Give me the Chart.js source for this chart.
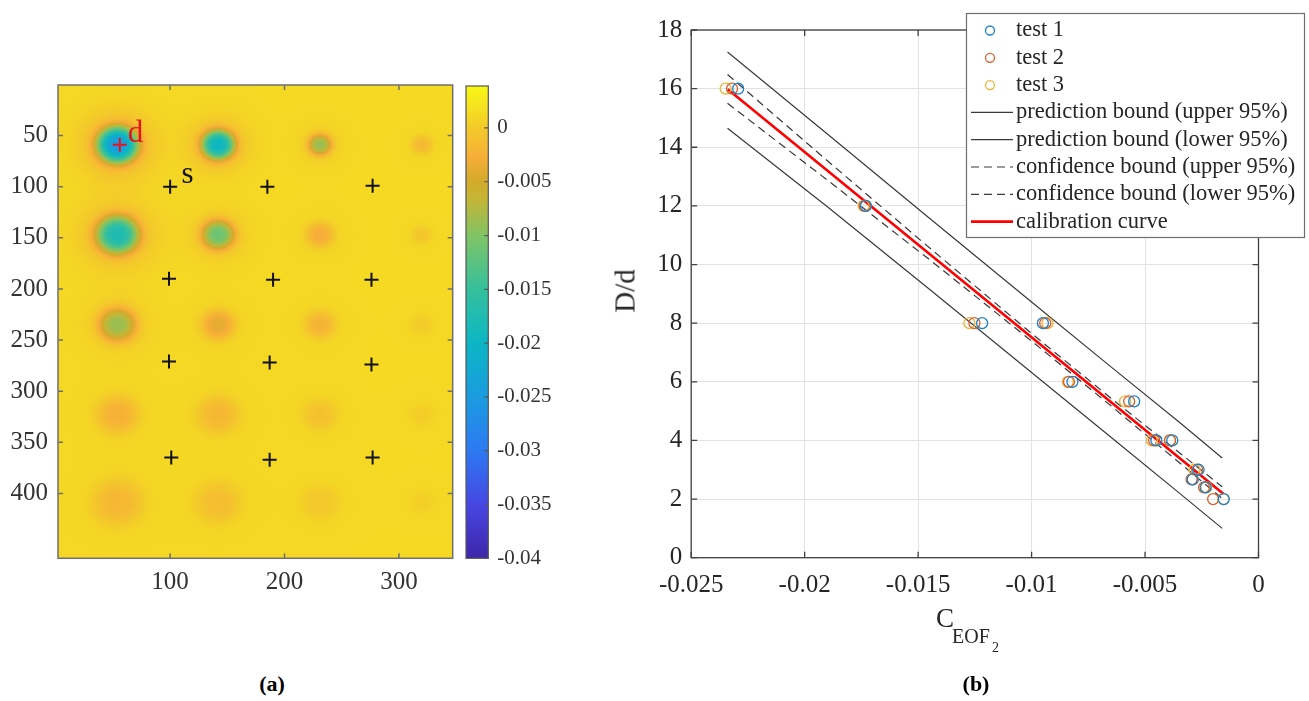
<!DOCTYPE html>
<html>
<head>
<meta charset="utf-8">
<title>EOF2 coefficient map and calibration curve</title>
<script src="https://cdn.jsdelivr.net/npm/chart.js@4.4.1/dist/chart.umd.min.js"></script>
<style>
    html, body { margin: 0; padding: 0; background: #fff; }
    #page { position: relative; width: 1309px; height: 701px; overflow: hidden;
            font-family: "Liberation Serif", "Times New Roman", serif; color: #262626; }
    canvas { position: absolute; }
    .txt { position: absolute; white-space: nowrap; line-height: 1; }
</style>
</head>
<body>
<div id="page">
    <canvas id="mapChart" width="465" height="560" style="left:0;top:60px"></canvas>
    <canvas id="barChart" width="120" height="560" style="left:460px;top:60px"></canvas>
    <canvas id="fitChart" width="709" height="660" style="left:600px;top:0"></canvas>

    <div class="txt" style="left:625px;top:291px;font-size:29px;transform:translate(-50%,-50%) rotate(-90deg)">D/d</div>
    <div class="txt" style="left:936px;top:605px;font-size:27px">C</div>
    <div class="txt" style="left:952px;top:626px;font-size:20px">EOF</div>
    <div class="txt" style="left:992px;top:641px;font-size:14px">2</div>

    <div class="txt" style="left:272px;top:673px;font-size:22px;font-weight:bold;color:#000;transform:translateX(-50%)">(a)</div>
    <div class="txt" style="left:976px;top:673px;font-size:22px;font-weight:bold;color:#000;transform:translateX(-50%)">(b)</div>
</div>

<script>
/* ---------- (a) EOF2 map ---------- */
var mapXTicks = [100, 200, 300];
var mapYTicks = [50, 100, 150, 200, 250, 300, 350, 400];
// sensor positions (black +)
var sensorX = [100, 185, 277, 99, 190, 276, 99, 187, 276, 101, 187, 277];
var sensorY = [100, 100, 99, 190, 191, 191, 271, 272, 274, 365, 367, 365];
// damage position (red +)
var damageX = [56];
var damageY = [59];
// text marks on the map
var noteText = ["d", "s"];
var noteX = [63, 110];
var noteY = [56, 96];
var noteColor = ["#e8141c", "#111"];
// spots of the field: column / row centres, depth and size of each spot
var blobX = [54, 142, 231, 320];
var blobY = [59, 147, 235, 323, 409];
var blobDepth = [
    [-0.026, -0.021, -0.0100, -0.0028],
    [-0.019, -0.0125, -0.0040, -0.0016],
    [-0.0100, -0.0050, -0.0034, -0.0011],
    [-0.0036, -0.0030, -0.0021, -0.0009],
    [-0.0030, -0.0024, -0.0015, -0.0008]
];
var blobRadius = [
    [17, 14, 10, 9],
    [18, 14, 12, 9],
    [16, 14, 13, 10],
    [18, 18, 15, 12],
    [22, 20, 17, 12]
];
var fieldBase = 0.0012;

/* ---------- colour bar ---------- */
var cbarMin = -0.04;
var cbarMax = 0.0039;
var cbarTicks = [-0.04, -0.035, -0.03, -0.025, -0.02, -0.015, -0.01, -0.005, 0];
var cbarLabels = ["-0.04", "-0.035", "-0.03", "-0.025", "-0.02", "-0.015", "-0.01", "-0.005", "0"];

/* ---------- (b) calibration ---------- */
var ratioD = [16, 12, 8, 8, 6, 5.33, 4, 4, 3, 2.67, 2.4, 2];
var test1 = [-0.02293, -0.0173, -0.01218, -0.0095, -0.0082, -0.00548, -0.0045, -0.0038, -0.00264, -0.0029, -0.00233, -0.00153];
var test2 = [-0.0232, -0.01735, -0.01252, -0.0094, -0.00835, -0.0057, -0.0046, -0.0039, -0.0027, -0.00295, -0.0024, -0.0020];
var test3 = [-0.02348, -0.0174, -0.01274, -0.0093, -0.0084, -0.00588, -0.0047, -0.0039, -0.00282, -0.0029, -0.0023, -0.00155];
var boundX = [-0.0234, -0.019, -0.0145, -0.010, -0.0065, -0.0035, -0.0016];
var predUpper = [17.25, 14.45, 11.58, 8.72, 6.51, 4.63, 3.40];
var predLower = [14.65, 11.97, 9.16, 6.32, 4.11, 2.21, 1.00];
var confUpper = [16.48, 13.54, 10.57, 7.65, 5.44, 3.59, 2.42];
var confLower = [15.50, 12.88, 10.17, 7.39, 5.18, 3.25, 2.02];
var curveX = [-0.02339, -0.00154];
var curveY = [15.98, 2.17];
var fitXTicks = [-0.025, -0.02, -0.015, -0.01, -0.005, 0];
var fitXLabels = ["-0.025", "-0.02", "-0.015", "-0.01", "-0.005", "0"];
var fitYTicks = [0, 2, 4, 6, 8, 10, 12, 14, 16, 18];

/* parula-like colour map */
var cmapPos = [0, 0.11, 0.23, 0.34, 0.455, 0.57, 0.68, 0.76, 0.80, 0.85, 0.91, 1];
var cmapHex = ["#3e26a8", "#4745e2", "#2c7af2", "#1b9be0", "#0bb6c4", "#35c09c",
               "#7ec466", "#c4b636", "#d4aa2a", "#f7ae38", "#f3ca2a", "#f8f815"];

var serif = '"Liberation Serif", "Times New Roman", serif';
Chart.defaults.font.family = serif;

function hexRgb(h) {
    return [parseInt(h.substr(1, 2), 16), parseInt(h.substr(3, 2), 16), parseInt(h.substr(5, 2), 16)];
}
var cmapRgb = cmapHex.map(hexRgb);

function colourAt(v) {
    var t = (v - cbarMin) / (cbarMax - cbarMin);
    if (t <= 0) return cmapRgb[0];
    if (t >= 1) return cmapRgb[cmapRgb.length - 1];
    for (var i = 1; i < cmapPos.length; i++) {
        if (t <= cmapPos[i]) {
            var f = (t - cmapPos[i - 1]) / (cmapPos[i] - cmapPos[i - 1]);
            var a = cmapRgb[i - 1], b = cmapRgb[i];
            return [a[0] + (b[0] - a[0]) * f, a[1] + (b[1] - a[1]) * f, a[2] + (b[2] - a[2]) * f];
        }
    }
    return cmapRgb[cmapRgb.length - 1];
}

// sharp core plus a soft halo round every spot
function fieldValue(x, y) {
    var v = fieldBase;
    for (var r = 0; r < blobY.length; r++) {
        for (var c = 0; c < blobX.length; c++) {
            var dx = x - blobX[c], dy = y - blobY[r];
            var q = Math.sqrt(dx * dx + dy * dy) / blobRadius[r][c];
            var halo = q / 1.8;
            v += blobDepth[r][c] * (0.85 * Math.exp(-q * q * q) + 0.15 * Math.exp(-halo * halo));
        }
    }
    return v;
}

function fixedTicks(list) {
    return function (scale) {
        scale.ticks = list.map(function (v) { return { value: v }; });
    };
}

/* paints the map pixel by pixel through the chart scales */
var heatmapPlugin = {
    id: "heatmap",
    beforeDatasetsDraw: function (chart) {
        var a = chart.chartArea, xs = chart.scales.x, ys = chart.scales.y;
        var left = Math.floor(a.left), top = Math.floor(a.top);
        var w = Math.ceil(a.right) - left, h = Math.ceil(a.bottom) - top;
        var img = chart.ctx.createImageData(w, h);
        for (var j = 0; j < h; j++) {
            var yv = ys.getValueForPixel(top + j + 0.5);
            for (var i = 0; i < w; i++) {
                var xv = xs.getValueForPixel(left + i + 0.5);
                var c = colourAt(fieldValue(xv, yv));
                var k = (j * w + i) * 4;
                img.data[k] = c[0];
                img.data[k + 1] = c[1];
                img.data[k + 2] = c[2];
                img.data[k + 3] = 255;
            }
        }
        chart.ctx.putImageData(img, left, top);
    }
};

/* box round the axes with inward ticks, MATLAB style */
var framePlugin = {
    id: "frame",
    afterDatasetsDraw: function (chart, args, o) {
        var a = chart.chartArea, ctx = chart.ctx, len = o.tick;
        ctx.save();
        ctx.strokeStyle = o.color;
        ctx.lineWidth = o.width;
        ctx.beginPath();
        if (o.xTicks) {
            chart.scales.x.ticks.forEach(function (t) {
                var px = chart.scales.x.getPixelForValue(t.value);
                ctx.moveTo(px, a.bottom); ctx.lineTo(px, a.bottom - len);
                ctx.moveTo(px, a.top); ctx.lineTo(px, a.top + len);
            });
        }
        if (o.yTicks) {
            chart.scales.y.ticks.forEach(function (t) {
                var py = chart.scales.y.getPixelForValue(t.value);
                if (o.yLeft) { ctx.moveTo(a.left, py); ctx.lineTo(a.left + len, py); }
                ctx.moveTo(a.right, py); ctx.lineTo(a.right - len, py);
            });
        }
        ctx.stroke();
        ctx.strokeRect(a.left, a.top, a.right - a.left, a.bottom - a.top);
        ctx.restore();
    }
};

var mapTextPlugin = {
    id: "mapText",
    afterDatasetsDraw: function (chart) {
        var ctx = chart.ctx;
        ctx.save();
        ctx.font = "31px " + serif;
        ctx.textAlign = "left";
        ctx.textBaseline = "alphabetic";
        noteText.forEach(function (t, i) {
            ctx.fillStyle = noteColor[i];
            ctx.fillText(t, chart.scales.x.getPixelForValue(noteX[i]), chart.scales.y.getPixelForValue(noteY[i]));
        });
        ctx.restore();
    }
};

var legendPlugin = {
    id: "fitLegend",
    afterDraw: function (chart, args, o) {
        var ctx = chart.ctx;
        ctx.save();
        ctx.fillStyle = "#fff";
        ctx.fillRect(o.x, o.y, o.w, o.h);
        ctx.strokeStyle = "#6e6e6e";
        ctx.lineWidth = 1.2;
        ctx.strokeRect(o.x + 0.5, o.y + 0.5, o.w, o.h);
        ctx.font = o.size + "px " + serif;
        ctx.textBaseline = "middle";
        chart.data.datasets.forEach(function (ds, i) {
            var cy = o.y + o.first + i * o.step;
            ctx.setLineDash([]);
            if (ds.showLine === false) {
                ctx.strokeStyle = ds.borderColor;
                ctx.lineWidth = 1.3;
                ctx.beginPath();
                ctx.arc(o.x + 24, cy, 4.5, 0, Math.PI * 2);
                ctx.stroke();
            } else {
                ctx.strokeStyle = ds.borderColor;
                ctx.lineWidth = ds.borderWidth;
                ctx.setLineDash(ds.borderDash || []);
                ctx.beginPath();
                ctx.moveTo(o.x + 5, cy);
                ctx.lineTo(o.x + 47, cy);
                ctx.stroke();
            }
            ctx.fillStyle = "#262626";
            ctx.fillText(ds.label, o.x + 50, cy);
        });
        ctx.restore();
    }
};

function toPoints(xs, ys) {
    return xs.map(function (x, i) { return { x: x, y: ys[i] }; });
}

/* ---------- chart (a) ---------- */
var mapChart = new Chart(document.getElementById("mapChart"), {
    type: "scatter",
    data: {
        datasets: [
            {
                label: "sensors",
                data: toPoints(sensorX, sensorY),
                pointStyle: "cross",
                radius: 7,
                borderWidth: 2,
                borderColor: "#111",
                backgroundColor: "#111",
            },
            {
                label: "damage",
                data: toPoints(damageX, damageY),
                pointStyle: "cross",
                radius: 7,
                borderWidth: 2,
                borderColor: "#e8141c",
                backgroundColor: "#e8141c",
            },
        ],
    },
    options: {
        responsive: false,
        animation: false,
        events: [],
        layout: { padding: { left: 0, top: 25, right: 12.3, bottom: 0 } },
        plugins: {
            legend: { display: false },
            tooltip: { enabled: false },
            frame: { color: "#6f6f6f", width: 1.5, tick: 5, xTicks: true, yTicks: true, yLeft: true },
        },
        scales: {
            x: {
                type: "linear",
                min: 2,
                max: 347,
                afterBuildTicks: fixedTicks(mapXTicks),
                afterFit: function (s) { s.height = 61.7; },
                grid: { display: false, drawTicks: false },
                border: { display: false },
                ticks: { color: "#333", padding: 9, maxRotation: 0, autoSkip: false, font: { size: 25 } },
            },
            y: {
                type: "linear",
                reverse: true,
                min: 0.5,
                max: 463.5,
                afterBuildTicks: fixedTicks(mapYTicks),
                afterFit: function (s) { s.width = 58; },
                grid: { display: false, drawTicks: false },
                border: { display: false },
                ticks: { color: "#333", padding: 10, autoSkip: false, font: { size: 25 } },
            },
        },
    },
    plugins: [heatmapPlugin, framePlugin, mapTextPlugin],
});

/* ---------- colour bar ---------- */
var barChart = new Chart(document.getElementById("barChart"), {
    type: "bar",
    data: {
        labels: [""],
        datasets: [
            {
                label: "EOF2",
                data: [[cbarMin, cbarMax]],
                barPercentage: 1,
                categoryPercentage: 1,
                borderWidth: 0,
                backgroundColor: function (ctx) {
                    var c = ctx.chart;
                    if (!c.chartArea) return cmapHex[0];
                    var ys = c.scales.y;
                    var y0 = ys.getPixelForValue(cbarMin), y1 = ys.getPixelForValue(cbarMax);
                    var g = c.ctx.createLinearGradient(0, y0, 0, y1);
                    cmapPos.forEach(function (p, i) { g.addColorStop(p, cmapHex[i]); });
                    return g;
                },
            },
        ],
    },
    options: {
        responsive: false,
        animation: false,
        events: [],
        layout: { padding: { left: 6, top: 26, right: 0, bottom: 61.7 } },
        plugins: {
            legend: { display: false },
            tooltip: { enabled: false },
            frame: { color: "#555", width: 1.2, tick: 4, xTicks: false, yTicks: true, yLeft: false },
        },
        scales: {
            x: { display: false },
            y: {
                position: "right",
                min: cbarMin,
                max: cbarMax,
                afterBuildTicks: fixedTicks(cbarTicks),
                afterFit: function (s) { s.width = 91.7; },
                grid: { display: false, drawTicks: false },
                border: { display: false },
                ticks: {
                    color: "#333",
                    padding: 9,
                    autoSkip: false,
                    font: { size: 21 },
                    callback: function (v, i) { return cbarLabels[i]; },
                },
            },
        },
    },
    plugins: [framePlugin],
});

/* ---------- chart (b) ---------- */
var lineGrey = "#3a3a3a";
var fitChart = new Chart(document.getElementById("fitChart"), {
    type: "scatter",
    data: {
        datasets: [
            { label: "test 1", data: toPoints(test1, ratioD), showLine: false, order: 0,
              pointStyle: "circle", radius: 5.5, borderWidth: 1.3, borderColor: "#1a82cc", backgroundColor: "rgba(0,0,0,0)" },
            { label: "test 2", data: toPoints(test2, ratioD), showLine: false, order: 0,
              pointStyle: "circle", radius: 5.5, borderWidth: 1.3, borderColor: "#d9602a", backgroundColor: "rgba(0,0,0,0)" },
            { label: "test 3", data: toPoints(test3, ratioD), showLine: false, order: 0,
              pointStyle: "circle", radius: 5.5, borderWidth: 1.3, borderColor: "#efb437", backgroundColor: "rgba(0,0,0,0)" },
            { label: "prediction bound (upper 95%)", data: toPoints(boundX, predUpper), showLine: true, order: 2,
              pointRadius: 0, borderWidth: 1.2, borderColor: lineGrey, tension: 0 },
            { label: "prediction bound (lower 95%)", data: toPoints(boundX, predLower), showLine: true, order: 2,
              pointRadius: 0, borderWidth: 1.2, borderColor: lineGrey, tension: 0 },
            { label: "confidence bound (upper 95%)", data: toPoints(boundX, confUpper), showLine: true, order: 2,
              pointRadius: 0, borderWidth: 1.2, borderColor: lineGrey, borderDash: [8, 5], tension: 0 },
            { label: "confidence bound (lower 95%)", data: toPoints(boundX, confLower), showLine: true, order: 2,
              pointRadius: 0, borderWidth: 1.2, borderColor: lineGrey, borderDash: [8, 5], tension: 0 },
            { label: "calibration curve", data: toPoints(curveX, curveY), showLine: true, order: 1,
              pointRadius: 0, borderWidth: 2.6, borderColor: "#ff0000", tension: 0 },
        ],
    },
    options: {
        responsive: false,
        animation: false,
        events: [],
        layout: { padding: { left: 0, top: 30, right: 50.5, bottom: 0 } },
        plugins: {
            legend: { display: false },
            tooltip: { enabled: false },
            frame: { color: "#404040", width: 1.3, tick: 6, xTicks: true, yTicks: true, yLeft: true },
            fitLegend: { x: 366, y: 13, w: 338, h: 224, first: 17.5, step: 27.3, size: 22.5 },
        },
        scales: {
            x: {
                type: "linear",
                min: -0.025,
                max: 0,
                afterBuildTicks: fixedTicks(fitXTicks),
                afterFit: function (s) { s.height = 102.3; },
                grid: { color: "#e2e2e2", lineWidth: 1, drawTicks: false },
                border: { display: false },
                ticks: {
                    color: "#262626",
                    padding: 13,
                    maxRotation: 0,
                    autoSkip: false,
                    font: { size: 25 },
                    callback: function (v, i) { return fitXLabels[i]; },
                },
            },
            y: {
                type: "linear",
                min: 0,
                max: 18,
                afterBuildTicks: fixedTicks(fitYTicks),
                afterFit: function (s) { s.width = 91.2; },
                grid: { color: "#e2e2e2", lineWidth: 1, drawTicks: false },
                border: { display: false },
                ticks: { color: "#262626", padding: 9, autoSkip: false, font: { size: 25 } },
            },
        },
    },
    plugins: [framePlugin, legendPlugin],
});
</script>
</body>
</html>
